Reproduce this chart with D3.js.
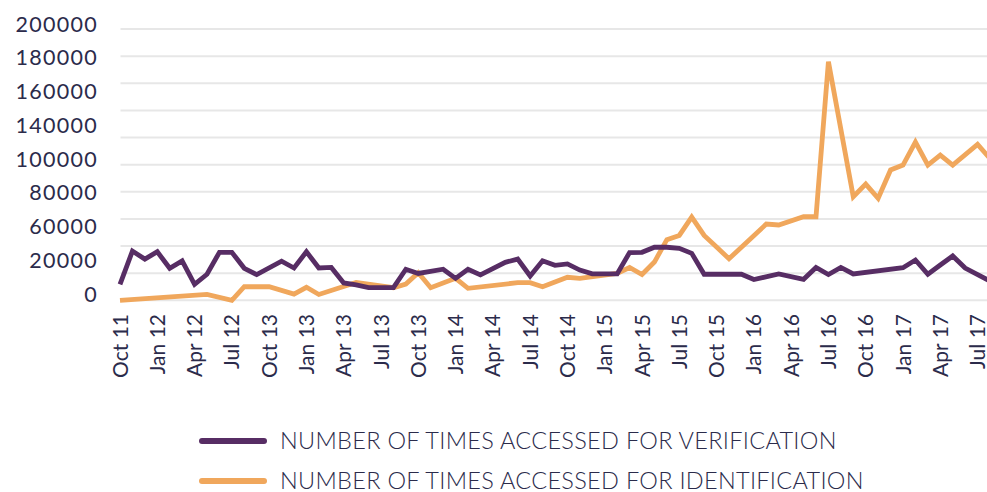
<!DOCTYPE html>
<html>
<head>
<meta charset="utf-8">
<script src="https://cdn.jsdelivr.net/npm/d3@7"></script>
<style>
  html, body { margin: 0; padding: 0; background: #ffffff; }
  svg { display: block; }
  text { font-family: Lato, "Open Sans", sans-serif; fill: #2b2b4b; }
</style>
</head>
<body>
<svg id="chart" width="987" height="492"></svg>
<script>
// Months since Oct 2011 (index = month number); null = no visible vertex
const verification = [
  11800, 36300, 30400, 35800, 23600, 29000, 11800, 19200, 35400, 35400,
  23600, 18900, null, 28800, 23800, 35800, 23800, 24200, 12800, 11300,
  9300, null, 9300, 22900, 19800, null, 22900, 16200, 22900, 18700,
  null, 28000, 30400, 17900, 29100, 25800, 26800, 22300, 19500, 19500,
  19500, 35200, 35400, 39100, 39100, 38300, 34600, 19200, 19200, 19200,
  19200, 15300, null, 19500, null, 15500, 24200, 19000, 24200, 19400,
  null, null, null, 24000, 29700, 19200, 26000, 32700, 23800, null,
  14200
];
const identification = [
  0, null, null, null, null, null, null, 4400, null, 0,
  10000, 10000, 10000, null, 4600, 9600, 4300, null, null, 13100,
  null, null, 9300, 12000, 20300, 9300, null, 16200, 8800, null,
  null, null, 13000, 13000, 10000, null, 17000, 16200, null, null,
  19800, 24200, 19000, 28200, 44700, 47800, 61300, 47800, 39300, 30600,
  null, null, 56200, 55500, null, 61600, 61600, 175900, null, 76400,
  85700, 75200, 96100, 99700, 116700, 99700, 107100, 99700, null, 114900,
  104600
];
const xTickLabels = ["Oct 11","Jan 12","Apr 12","Jul 12","Oct 13","Jan 13","Apr 13","Jul 13",
  "Oct 13","Jan 14","Apr 14","Jul 14","Oct 14","Jan 15","Apr 15","Jul 15",
  "Oct 15","Jan 16","Apr 16","Jul 16","Oct 16","Jan 17","Apr 17","Jul 17"];
const yTickLabels = ["200000","180000","160000","140000","100000","80000","60000","20000","0"];
const gridValues = [0, 20000, 40000, 60000, 80000, 100000, 120000, 140000, 160000, 180000, 200000];
const seriesNames = ["NUMBER OF TIMES ACCESSED FOR VERIFICATION", "NUMBER OF TIMES ACCESSED FOR IDENTIFICATION"];
const seriesColors = ["#572d64", "#f0a75c"];

const svg = d3.select("#chart");
const x = d3.scaleLinear().domain([0, 70]).range([120, 990]);
const y = d3.scaleLinear().domain([0, 200000]).range([300.3, 29]);
const yLab = d3.scalePoint().domain(yTickLabels).range([24, 294]);

// gridlines
svg.append("g").selectAll("line").data(gridValues).join("line")
  .attr("x1", 120.5).attr("x2", 987)
  .attr("y1", d => y(d)).attr("y2", d => y(d))
  .attr("stroke", "#e7e7e7").attr("stroke-width", 2);

// y labels
svg.append("g").selectAll("text").data(yTickLabels).join("text")
  .attr("x", 98).attr("y", d => yLab(d))
  .attr("dy", "0.36em")
  .attr("text-anchor", "end")
  .style("font-size", "21.5px")
  .style("letter-spacing", "1.3px")
  .text(d => d);

// x labels
svg.append("g").selectAll("text").data(xTickLabels).join("text")
  .attr("transform", (d, i) => `translate(${x(i * 3)},314) rotate(-90)`)
  .attr("dy", "0.36em")
  .attr("text-anchor", "end")
  .style("font-size", "21px")
  .text(d => d);

// lines
const line = d3.line()
  .x(d => x(d.m)).y(d => y(d.v))
  .curve(d3.curveLinear);
const toPts = arr => arr.map((v, m) => ({ m, v })).filter(d => d.v !== null);

[identification, verification].forEach((arr, k) => {
  const color = k === 0 ? seriesColors[1] : seriesColors[0];
  svg.append("path")
    .datum(toPts(arr))
    .attr("d", line)
    .attr("fill", "none")
    .attr("stroke", color)
    .attr("stroke-width", 4.8)
    .attr("stroke-linejoin", "miter")
    .attr("stroke-linecap", "butt");
});

// legend
const legend = svg.append("g");
seriesNames.forEach((name, i) => {
  const ly = 441 + i * 40;
  legend.append("line")
    .attr("x1", 202).attr("x2", 264).attr("y1", ly).attr("y2", ly)
    .attr("stroke", seriesColors[i]).attr("stroke-width", 6)
    .attr("stroke-linecap", "round");
  legend.append("text")
    .attr("x", 280).attr("y", ly).attr("dy", "0.36em")
    .style("font-size", "23.5px").style("font-weight", 300)
    .style("letter-spacing", "0.3px")
    .text(name);
});
</script>
</body>
</html>
